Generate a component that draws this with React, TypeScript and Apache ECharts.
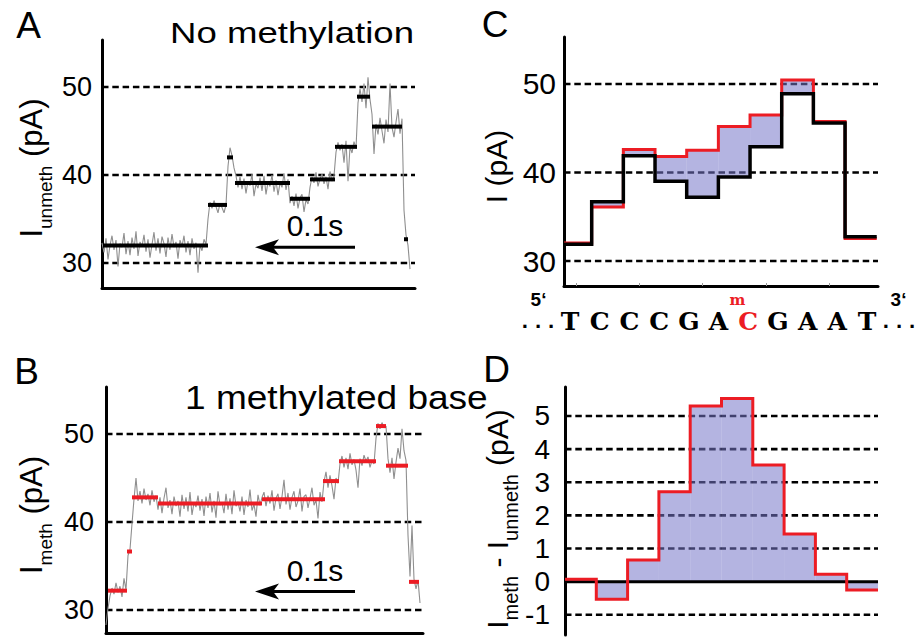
import React, { useEffect, useRef } from 'react';
import * as echarts from 'echarts';

const SANS = '"Liberation Sans", Arial, Helvetica, sans-serif';
const MONO = '"Liberation Mono", "Courier New", monospace';
const SLAB = '"DejaVu Serif", "Courier New", serif';
const RED = '#ec1c24';
const FILL = 'rgba(118,118,200,0.55)';
const GRAY = '#8f8f8f';

// ---------- Panel A / B : raw current traces (sampled every TRACE_DT ms) ----------
const TRACE_DT = 2;
const TRACE_A = [
  32.3, 31.2, 32.8, 30.4, 32.0, 33.1, 31.5, 32.6, 29.6, 32.2,
  31.8, 33.4, 31.0, 32.5, 30.9, 32.9, 31.6, 33.6, 30.8, 32.4,
  31.9, 33.2, 31.3, 32.7, 30.6, 32.1, 33.5, 31.4, 32.8, 31.1,
  33.0, 32.2, 30.7, 32.9, 31.5, 33.3, 31.8, 32.4, 30.5, 32.6,
  31.9, 33.1, 31.2, 32.5, 30.9, 32.8, 31.6, 32.3, 28.9, 32.0,
  31.4, 32.7, 32.1, 35.0, 36.9, 36.2, 37.1, 36.4, 35.7, 36.8,
  36.3, 35.7, 36.6, 41.0, 43.1, 42.2, 40.8, 39.9, 38.6, 39.8,
  38.4, 39.6, 37.9, 39.3, 38.8, 40.1, 37.6, 39.0, 38.5, 39.7,
  38.2, 39.9, 37.8, 39.2, 38.7, 40.0, 38.1, 39.4, 37.7, 39.1,
  38.6, 40.2, 38.3, 39.5, 36.8, 37.6, 36.5, 37.9, 36.2, 37.4,
  37.8, 35.8, 37.2, 36.7, 38.6, 39.8, 39.1, 40.3, 38.7, 39.6,
  40.1, 39.0, 39.8, 38.4, 40.4, 39.3, 39.9, 42.6, 43.7, 42.8,
  43.5, 41.4, 43.9, 39.3, 43.2, 42.5, 43.8, 43.0, 48.2, 49.8,
  48.3, 50.4, 47.6, 51.1, 48.6, 46.9, 42.4, 45.8, 44.6, 46.5,
  45.0, 43.6, 46.3, 44.9, 50.4, 45.4, 44.3, 46.0, 47.5, 44.7,
  46.4, 36.0, 33.2, 32.0, 29.3,
];
const SEG_A_START = [1, 106, 125, 133, 188, 208, 233, 255, 270, 302];
const SEG_A_END = [106, 125, 131, 188, 208, 233, 255, 268, 300, 306];
const SEG_A_LEVEL = [32.0, 36.6, 42.0, 39.1, 37.3, 39.5, 43.2, 48.9, 45.5, 32.7];

const TRACE_B = [
  28.3, 30.2, 31.6, 32.5, 31.8, 33.1, 32.0, 32.7, 31.5, 33.6,
  32.3, 36.2, 36.9, 39.8, 42.6, 45.0, 42.4, 43.5, 42.1, 43.8,
  42.5, 43.2, 41.9, 43.6, 42.3, 43.0, 41.4, 42.8, 41.0, 42.7,
  43.9, 41.6, 42.5, 40.9, 42.9, 41.8, 42.4, 40.6, 43.1, 41.5,
  42.8, 41.2, 43.4, 40.8, 42.2, 41.7, 43.0, 41.3, 42.6, 40.7,
  42.9, 41.6, 43.3, 41.1, 42.4, 40.5, 43.5, 41.9, 42.2, 41.0,
  43.2, 41.4, 42.7, 40.9, 43.6, 41.8, 42.3, 41.2, 42.9, 40.8,
  42.5, 41.7, 43.7, 41.3, 42.0, 40.6, 43.1, 41.9, 42.8, 43.4,
  41.8, 43.0, 42.1, 43.6, 41.3, 42.7, 43.2, 41.5, 42.9, 44.8,
  42.0, 43.3, 41.4, 42.8, 43.5, 41.7, 42.4, 43.8, 41.2, 42.9,
  43.1, 41.6, 42.7, 43.9, 41.9, 42.5, 40.4, 43.4, 42.3, 44.6,
  45.7, 43.9, 45.3, 44.1, 42.6, 45.0, 44.4, 46.6, 47.5, 46.2,
  47.3, 46.0, 47.8, 46.5, 47.1, 45.9, 43.9, 47.2, 46.4, 47.6,
  46.9, 47.4, 46.2, 47.0, 46.6, 49.5, 51.2, 50.6, 51.3, 50.7,
  50.9, 47.2, 45.6, 47.3, 44.9, 46.8, 48.4, 47.2, 50.6, 48.1,
  47.0, 38.5, 33.8, 39.6, 33.5, 32.4, 33.4, 30.8,
];
const SEG_B_START = [2, 21, 26, 52, 156, 217, 233, 270, 280, 303];
const SEG_B_END = [21, 26, 52, 156, 219, 233, 270, 280, 302, 313];
const SEG_B_LEVEL = [32.2, 36.65, 42.8, 42.1, 42.6, 44.65, 46.9, 50.9, 46.4, 33.2];

// scale bar: [tail time, head time, current level]
const SCALE_A = [[253, 153, 31.8]];
const SCALE_B = [[249, 149, 32.1]];
const SCALE_LABEL = '0.1s';

// ---------- Panel C : mean levels per position ----------
const SEQ = ['T', 'C', 'C', 'C', 'G', 'A', 'C', 'G', 'A', 'A', 'T'];
const METHYL_INDEX = 6;
const C_EDGES = [0.126, 1, 2, 3, 4, 5, 6, 7, 8, 9, 10];
const C_UNMETH = [31.9, 36.7, 41.9, 39.0, 37.2, 39.5, 42.9, 48.9, 45.6, 32.75];
const C_METH = [32.05, 36.1, 42.6, 41.8, 42.5, 45.2, 46.5, 50.45, 45.75, 32.55];

// ---------- Panel D : difference ----------
const D_EDGES = [0, 1, 2, 3, 4, 5, 6, 7, 8, 9, 10];
const D_DIFF = [0.07, -0.53, 0.65, 2.71, 5.3, 5.53, 3.52, 1.44, 0.22, -0.25];

const TICKS_I = [30, 40, 50];
const TICKS_D = [-1, 0, 1, 2, 3, 4, 5];
const GRID_D_DASHED = [-1, 1, 2, 3, 4, 5];
const ZERO_D = [0];

function hLines(xi: number, yi: number, vals: number[], x0: number, x1: number, dashed: boolean, width: number, z: number) {
  return {
    type: 'custom', xAxisIndex: xi, yAxisIndex: yi, z, silent: true,
    data: vals.map((v) => [x0, v]),
    renderItem: (_p: any, api: any) => {
      const v = api.value(1);
      const a = api.coord([x0, v]);
      const b = api.coord([x1, v]);
      return {
        type: 'line',
        shape: { x1: a[0], y1: a[1], x2: b[0], y2: b[1] },
        style: { stroke: '#000', lineWidth: width, lineDash: dashed ? [6.5, 3.8] : null },
      };
    },
  };
}

function segments(xi: number, yi: number, starts: number[], ends: number[], vals: number[], color: string) {
  return {
    type: 'custom', xAxisIndex: xi, yAxisIndex: yi, z: 5, silent: true,
    data: starts.map((s, i) => [s, ends[i], vals[i]]),
    renderItem: (_p: any, api: any) => {
      const a = api.coord([api.value(0), api.value(2)]);
      const b = api.coord([api.value(1), api.value(2)]);
      return {
        type: 'line',
        shape: { x1: a[0], y1: a[1], x2: b[0], y2: b[1] },
        style: { stroke: color, lineWidth: 4 },
      };
    },
  };
}

function trace(xi: number, yi: number, vals: number[]) {
  return {
    type: 'line', xAxisIndex: xi, yAxisIndex: yi, z: 3, silent: true,
    data: vals.map((v, i) => [i * TRACE_DT, v]),
    symbol: 'none', showSymbol: false,
    lineStyle: { color: GRAY, width: 1.1 },
  };
}

function scaleBar(xi: number, yi: number, data: number[][]) {
  return {
    type: 'custom', xAxisIndex: xi, yAxisIndex: yi, z: 6, silent: true,
    data,
    renderItem: (_p: any, api: any) => {
      const tail = api.coord([api.value(0), api.value(2)]);
      const head = api.coord([api.value(1), api.value(2)]);
      const hx = head[0];
      const hy = head[1];
      return {
        type: 'group',
        children: [
          { type: 'line', shape: { x1: hx + 14, y1: hy, x2: tail[0], y2: tail[1] }, style: { stroke: '#000', lineWidth: 3 } },
          { type: 'polygon', shape: { points: [[hx, hy], [hx + 24, hy - 8], [hx + 18, hy], [hx + 24, hy + 8]] }, style: { fill: '#000' } },
          {
            type: 'text', x: (hx + tail[0]) / 2 + 10, y: hy - 21.5,
            style: { text: SCALE_LABEL, fontSize: 30, fontFamily: SANS, fill: '#000', align: 'center', verticalAlign: 'middle' },
          },
        ],
      };
    },
  };
}

function stepLine(xi: number, yi: number, edges: number[], vals: number[], color: string, width: number, z: number) {
  const data = vals.map((v, i) => [edges[i], v]);
  data.push([edges[edges.length - 1], vals[vals.length - 1]]);
  return {
    type: 'line', xAxisIndex: xi, yAxisIndex: yi, z, silent: true, step: 'end',
    data, symbol: 'none', showSymbol: false,
    lineStyle: { color, width, join: 'miter' },
  };
}

function bandFill(xi: number, yi: number, edges: number[], lo: number[], hi: number[]) {
  return {
    type: 'custom', xAxisIndex: xi, yAxisIndex: yi, z: 2, silent: true,
    data: lo.map((v, i) => [edges[i], edges[i + 1], v, hi[i]]),
    renderItem: (_p: any, api: any) => {
      const a = api.coord([api.value(0), api.value(2)]);
      const b = api.coord([api.value(1), api.value(3)]);
      return {
        type: 'rect',
        shape: { x: a[0], y: Math.min(a[1], b[1]), width: b[0] - a[0], height: Math.abs(a[1] - b[1]) },
        style: { fill: FILL },
      };
    },
  };
}

function yAxisBase(gridIndex: number, min: number, max: number, ticks: number[], fontSize: number, margin: number) {
  return {
    gridIndex, type: 'value', min, max,
    axisLine: { show: true, onZero: false, lineStyle: { color: '#000', width: 3 } },
    axisTick: { show: false },
    splitLine: { show: false },
    axisLabel: { customValues: ticks, fontSize, color: '#000', fontFamily: SANS, margin },
  };
}

function xAxisBase(gridIndex: number, min: number, max: number) {
  return {
    gridIndex, type: 'value', min, max,
    axisLine: { show: true, onZero: false, lineStyle: { color: '#000', width: 3 } },
    axisTick: { show: false },
    splitLine: { show: false },
    axisLabel: { show: false },
  };
}

function label(text: string, x: number, y: number, fontSize: number, extra: any = {}) {
  return {
    type: 'text', x, y, silent: true,
    scaleX: extra.scaleX ?? 1,
    style: {
      text, fontSize, fontFamily: extra.fontFamily ?? SANS, fontWeight: extra.fontWeight ?? 'normal',
      fill: extra.fill ?? '#000', align: extra.align ?? 'center', verticalAlign: 'middle',
    },
  };
}

function yName(text: string, x: number, y: number, main: number, sub: number) {
  return {
    type: 'text', x, y, rotation: Math.PI / 2, silent: true,
    style: {
      text,
      rich: {
        m: { fontSize: main, fontFamily: SANS, fill: '#000' },
        s: { fontSize: sub, fontFamily: SANS, fill: '#000', padding: [28, 0, 0, 0] },
      },
      align: 'center', verticalAlign: 'middle',
    },
  };
}

export default function App() {
  const ref = useRef<HTMLDivElement>(null);
  useEffect(() => {
    if (!ref.current) return;
    const chart = echarts.init(ref.current, null, { renderer: 'svg' });
    const option: any = {
      animation: false,
      backgroundColor: '#fff',
      grid: [
        { left: 102, top: 40, width: 313, height: 248 },
        { left: 106, top: 387, width: 317, height: 246 },
        { left: 564, top: 37, width: 314, height: 249 },
        { left: 565, top: 387, width: 313, height: 248 },
      ],
      xAxis: [
        xAxisBase(0, 0, 313),
        xAxisBase(1, 0, 317),
        {
          ...xAxisBase(2, 0.126, 10.04),
          axisTick: { show: true, inside: true, length: 3, customValues: [0.5, 2.5, 4.5, 6.5, 8.5], lineStyle: { color: '#999', width: 1 } },
        },
        {
          gridIndex: 2, type: 'value', min: -0.202, max: 10.37, position: 'bottom',
          axisLine: { show: false, onZero: false }, axisTick: { show: false }, splitLine: { show: false },
          axisLabel: {
            customValues: SEQ.map((_, i) => i),
            margin: 22,
            formatter: (v: number) => {
              const i = Math.round(v);
              return i === METHYL_INDEX ? `{r|${SEQ[i]}}` : `{b|${SEQ[i]}}`;
            },
            rich: {
              b: { fontSize: 25, fontWeight: 'bold', fontFamily: SLAB, color: '#000', lineHeight: 26 },
              r: { fontSize: 25, fontWeight: 'bold', fontFamily: SLAB, color: RED, lineHeight: 26 },
            },
          },
        },
        { gridIndex: 3, type: 'value', min: 0, max: 10, show: false },
      ],
      yAxis: [
        yAxisBase(0, 27.16, 55.34, TICKS_I, 27, 10),
        yAxisBase(1, 27.39, 55.34, TICKS_I, 27, 12),
        yAxisBase(2, 27.18, 55.3, TICKS_I, 30, 8),
        yAxisBase(3, -1.61, 5.875, TICKS_D, 28, 15),
      ],
      series: [
        // A
        hLines(0, 0, TICKS_I, 0, 313, true, 2.6, 1),
        trace(0, 0, TRACE_A),
        segments(0, 0, SEG_A_START, SEG_A_END, SEG_A_LEVEL, '#000'),
        scaleBar(0, 0, SCALE_A),
        // B
        hLines(1, 1, TICKS_I, 0, 317, true, 2.6, 1),
        trace(1, 1, TRACE_B),
        segments(1, 1, SEG_B_START, SEG_B_END, SEG_B_LEVEL, RED),
        scaleBar(1, 1, SCALE_B),
        // C
        hLines(2, 2, TICKS_I, 0.126, 10.04, true, 2.6, 1),
        bandFill(2, 2, C_EDGES, C_UNMETH, C_METH),
        stepLine(2, 2, C_EDGES, C_METH, RED, 3, 3),
        stepLine(2, 2, C_EDGES, C_UNMETH, '#000', 3.5, 4),
        // D
        hLines(4, 3, GRID_D_DASHED, 0, 10, true, 2.6, 1),
        bandFill(4, 3, D_EDGES, D_DIFF.map(() => 0), D_DIFF),
        hLines(4, 3, ZERO_D, 0, 10, false, 3, 3),
        stepLine(4, 3, D_EDGES, D_DIFF, RED, 3, 4),
      ],
      graphic: {
        elements: [
          label('A', 28.5, 25, 37),
          label('B', 26.5, 371, 37),
          label('C', 495, 24, 37),
          label('D', 496.5, 369, 37),
          label('No methylation', 170, 32.5, 30, { align: 'left', scaleX: 1.22 }),
          label('1 methylated base', 185, 397.5, 34, { align: 'left', scaleX: 1.09 }),
          yName('{m|I}{s|unmeth}{m| (pA)}', 31, 168, 31, 19),
          yName('{m|I}{s|meth}{m| (pA)}', 31, 515, 31, 19),
          yName('{m|I (pA)}', 496, 166.5, 30, 20),
          yName('{m|I}{s|meth}{m| - I}{s|unmeth}{m| (pA)}', 497, 519, 30, 20),
          label('5\u2018', 538.5, 299, 19, { fontWeight: 'bold' }),
          label('3\u2018', 898.5, 299, 19, { fontWeight: 'bold' }),
          label('m', 737.5, 300, 15, { fontWeight: 'bold', fontFamily: SLAB, fill: RED }),
          label('...', 538, 322, 22, { fontWeight: 'bold', fontFamily: MONO }),
          label('...', 899, 322, 22, { fontWeight: 'bold', fontFamily: MONO }),
        ],
      },
    };
    chart.setOption(option);
    return () => chart.dispose();
  }, []);
  return (
    <div
      ref={ref}
      style={{ position: 'fixed', left: 0, top: 0, width: 921, height: 637, background: '#fff' }}
    />
  );
}
